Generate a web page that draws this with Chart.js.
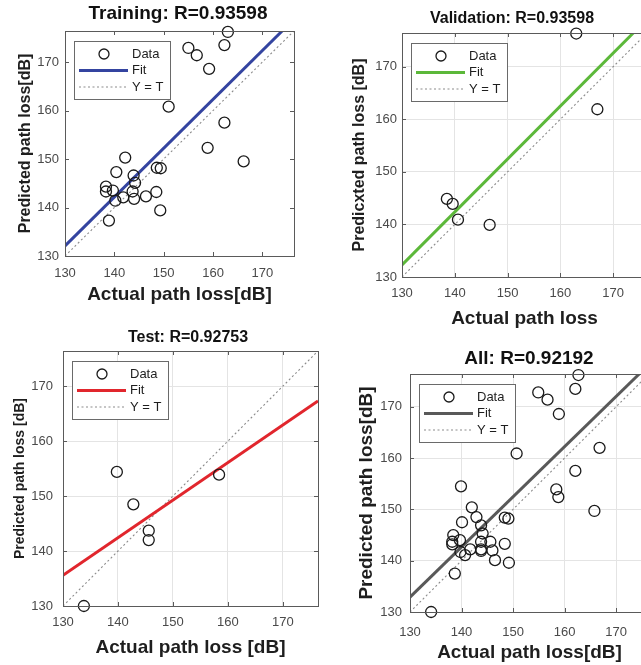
<!DOCTYPE html>
<html>
<head>
<meta charset="utf-8">
<script src="https://cdn.jsdelivr.net/npm/chart.js@4.4.0/dist/chart.umd.min.js"></script>
<style>
  html, body { margin: 0; padding: 0; background: #fff; }
  body { width: 641px; height: 665px; overflow: hidden; position: relative; }
  canvas { position: absolute; }
</style>
</head>
<body>
<canvas id="chartTrain" style="left:0;top:0"></canvas>
<canvas id="chartVal" style="left:320px;top:0"></canvas>
<canvas id="chartTest" style="left:0;top:320px"></canvas>
<canvas id="chartAll" style="left:320px;top:320px"></canvas>
<script>
// axis range and ticks (same for every panel)
const axisMin = 130
const axisMax = 176.4
const tickValues = [130, 140, 150, 160, 170]
const identityLine = [130, 176.4]

// Training
const trainActual = [163.0, 155.0, 156.7, 162.3, 159.2, 151.0, 162.3, 158.9, 166.2, 142.2, 140.4, 138.3, 138.3, 139.7, 140.2, 138.9, 141.8, 143.9, 144.2, 143.7, 144.0, 146.4, 148.6, 149.4, 148.5, 149.3]
const trainPredicted = [176.2, 172.9, 171.4, 173.5, 168.6, 160.8, 157.5, 152.3, 149.5, 150.3, 147.3, 144.3, 143.3, 143.5, 141.4, 137.3, 142.1, 146.6, 145.1, 143.3, 141.8, 142.3, 148.2, 148.1, 143.2, 139.4]
const trainFitX = [130, 174.0]
const trainFitY = [132.1, 176.4]

// Validation
const valActual = [163.0, 167.0, 138.5, 139.6, 140.6, 146.6]
const valPredicted = [176.3, 161.9, 144.85, 143.9, 140.9, 139.9]
const valFitX = [130, 173.8]
const valFitY = [132.3, 176.4]

// Test
const testActual = [139.8, 142.8, 145.6, 145.6, 158.4, 133.8]
const testPredicted = [154.4, 148.5, 143.7, 142.0, 153.9, 130.0]
const testFitX = [130, 176.4]
const testFitY = [135.6, 167.3]

// All
const allActual = [162.7, 154.9, 156.7, 162.1, 158.9, 166.8, 150.7, 162.1, 158.4, 158.8, 165.8, 139.9, 142.0, 142.9, 140.1, 143.8, 144.1, 138.4, 138.2, 138.2, 139.7, 139.8, 140.7, 141.7, 143.8, 143.8, 143.8, 145.6, 146.0, 146.5, 148.4, 148.4, 149.1, 149.2, 138.7, 134.1]
const allPredicted = [176.2, 172.8, 171.4, 173.5, 168.6, 162.0, 160.9, 157.5, 153.9, 152.4, 149.7, 154.5, 150.4, 148.5, 147.5, 146.9, 145.3, 145.0, 143.7, 143.2, 144.0, 141.7, 141.1, 142.2, 143.7, 142.2, 141.9, 143.7, 142.0, 140.1, 143.3, 148.4, 148.2, 139.6, 137.5, 130.0]
const allFitX = [130, 174.5]
const allFitY = [132.9, 176.4]

const legendLabels = ['Data', 'Fit', 'Y = T']

Chart.defaults.font.family = '"Liberation Sans", Arial, sans-serif'

const toPoints = (xs, ys) => xs.map((x, i) => ({x: x, y: ys[i]}))

function makePanel(p){

    const canvas = document.getElementById(p.id)
    canvas.width = p.width
    canvas.height = p.height
    const [L, T, R, B] = p.area

    const xLh = p.xLabelSize * 1.2
    const yLh = p.yLabelSize * 1.2

    const framePlugin = {
        id: 'frame',
        afterDatasetsDraw(chart){
            const {ctx, chartArea: a, scales} = chart
            ctx.save()
            ctx.strokeStyle = '#5a5a5a'
            ctx.lineWidth = 1
            ctx.strokeRect(Math.round(a.left) + 0.5, Math.round(a.top) + 0.5, Math.round(a.right - a.left), Math.round(a.bottom - a.top))
            ctx.beginPath()
            scales.x.ticks.forEach(t => {
                const px = Math.round(scales.x.getPixelForValue(t.value)) + 0.5
                ctx.moveTo(px, a.bottom); ctx.lineTo(px, a.bottom - 4)
                ctx.moveTo(px, a.top); ctx.lineTo(px, a.top + 4)
            })
            scales.y.ticks.forEach(t => {
                const py = Math.round(scales.y.getPixelForValue(t.value)) + 0.5
                ctx.moveTo(a.left, py); ctx.lineTo(a.left + 4, py)
                ctx.moveTo(a.right, py); ctx.lineTo(a.right - 4, py)
            })
            ctx.stroke()
            ctx.restore()
        }
    }

    const legendPlugin = {
        id: 'boxLegend',
        afterDraw(chart){
            const {ctx, chartArea: a} = chart
            const x = Math.round(a.left) + 9
            const y = Math.round(a.top) + 10
            const w = 96, h = 58
            ctx.save()
            ctx.fillStyle = '#fff'
            ctx.fillRect(x, y, w, h)
            ctx.strokeStyle = '#6a6a6a'
            ctx.lineWidth = 1
            ctx.strokeRect(x + 0.5, y + 0.5, w, h)
            ctx.font = '13px "Liberation Sans", Arial, sans-serif'
            ctx.textBaseline = 'middle'
            chart.data.datasets.forEach((ds, i) => {
                const ry = y + 13 + i * 16.5
                ctx.save()
                if(i === 0){
                    ctx.strokeStyle = ds.borderColor
                    ctx.lineWidth = ds.borderWidth
                    ctx.beginPath()
                    ctx.arc(x + 30, ry, 5, 0, Math.PI * 2)
                    ctx.stroke()
                }else{
                    ctx.strokeStyle = ds.borderColor
                    ctx.lineWidth = ds.borderWidth
                    ctx.setLineDash(ds.borderDash || [])
                    ctx.beginPath()
                    ctx.moveTo(x + 5, ry)
                    ctx.lineTo(x + 54, ry)
                    ctx.stroke()
                }
                ctx.restore()
                ctx.fillStyle = '#1e1e1e'
                ctx.fillText(ds.label, x + 58, ry)
            })
            ctx.restore()
        }
    }

    const titlePlugin = {
        id: 'panelTitle',
        afterDraw(chart){
            const {ctx} = chart
            ctx.save()
            ctx.font = 'bold ' + p.titleSize + 'px "Liberation Sans", Arial, sans-serif'
            ctx.fillStyle = '#111'
            ctx.textAlign = 'center'
            ctx.textBaseline = 'middle'
            ctx.fillText(p.title, p.titleX, p.titleY)
            ctx.restore()
        }
    }

    const tickFont = {size: p.tickSize}
    const gridOpts = {display: p.grid, color: '#e4e4e4', drawTicks: false}

    return new Chart(canvas, {
        type: 'scatter',
        data: {
            datasets: [{
                label: legendLabels[0],
                data: toPoints(p.actual, p.predicted),
                pointStyle: 'circle',
                pointRadius: 5.5,
                pointBorderWidth: 1.3,
                borderColor: '#1a1a1a',
                borderWidth: 1.3,
                backgroundColor: 'rgba(0,0,0,0)',
                clip: false
            }, {
                label: legendLabels[1],
                data: toPoints(p.fitX, p.fitY),
                showLine: true,
                pointRadius: 0,
                borderColor: p.fitColor,
                borderWidth: 3
            }, {
                label: legendLabels[2],
                data: toPoints(identityLine, identityLine),
                showLine: true,
                pointRadius: 0,
                borderColor: '#8c8c8c',
                borderWidth: 1.1,
                borderDash: [2, 2.5]
            }]
        },
        options: {
            responsive: false,
            maintainAspectRatio: false,
            animation: false,
            events: [],
            layout: {padding: {left: 0, top: T, right: p.width - R, bottom: 0}},
            plugins: {
                legend: {display: false},
                title: {display: false},
                tooltip: {enabled: false}
            },
            scales: {
                x: {
                    type: 'linear',
                    min: axisMin,
                    max: axisMax,
                    afterBuildTicks: s => { s.ticks = tickValues.map(v => ({value: v})) },
                    afterFit: s => { s.height = p.height - B },
                    grid: gridOpts,
                    border: {display: false},
                    ticks: {font: tickFont, color: '#4a4a4a', padding: p.xTickPad, maxRotation: 0},
                    title: {
                        display: true,
                        text: p.xLabel,
                        color: '#1e1e1e',
                        font: {size: p.xLabelSize, weight: 'bold', lineHeight: 1.2},
                        padding: {top: 0, bottom: Math.max(0, p.height - p.xLabelY - xLh / 2)}
                    }
                },
                y: {
                    type: 'linear',
                    min: axisMin,
                    max: axisMax,
                    afterBuildTicks: s => { s.ticks = tickValues.map(v => ({value: v})) },
                    afterFit: s => { s.width = L },
                    grid: gridOpts,
                    border: {display: false},
                    ticks: {font: tickFont, color: '#4a4a4a', padding: p.yTickPad},
                    title: {
                        display: true,
                        text: p.yLabel,
                        color: '#1e1e1e',
                        font: {size: p.yLabelSize, weight: 'bold', lineHeight: 1.2},
                        padding: {top: Math.max(0, p.yLabelX - yLh / 2), bottom: 0}
                    }
                }
            }
        },
        plugins: [framePlugin, legendPlugin, titlePlugin]
    })
}

makePanel({
    id: 'chartTrain', width: 320, height: 320, area: [65, 31, 294, 256],
    title: 'Training: R=0.93598', titleSize: 19, titleX: 178, titleY: 14,
    xLabel: 'Actual path loss[dB]', xLabelSize: 19, xLabelY: 295,
    yLabel: 'Predicted path loss[dB]', yLabelSize: 16, yLabelX: 26,
    tickSize: 13, xTickPad: 10, yTickPad: 6, grid: false,
    actual: trainActual, predicted: trainPredicted, fitX: trainFitX, fitY: trainFitY, fitColor: '#3444a0'
})

makePanel({
    id: 'chartVal', width: 340, height: 340, area: [82, 33, 327, 277],
    title: 'Validation: R=0.93598', titleSize: 16, titleX: 192, titleY: 19,
    xLabel: 'Actual path loss', xLabelSize: 19, xLabelY: 319,
    yLabel: 'Predicxted path loss [dB]', yLabelSize: 16, yLabelX: 40,
    tickSize: 13, xTickPad: 9, yTickPad: 5, grid: true,
    actual: valActual, predicted: valPredicted, fitX: valFitX, fitY: valFitY, fitColor: '#5cb83a'
})

makePanel({
    id: 'chartTest', width: 330, height: 345, area: [63, 31, 318, 286],
    title: 'Test: R=0.92753', titleSize: 16, titleX: 188, titleY: 18,
    xLabel: 'Actual path loss [dB]', xLabelSize: 19, xLabelY: 328,
    yLabel: 'Predicted path loss [dB]', yLabelSize: 14, yLabelX: 20,
    tickSize: 13, xTickPad: 9, yTickPad: 10, grid: true,
    actual: testActual, predicted: testPredicted, fitX: testFitX, fitY: testFitY, fitColor: '#e1262d'
})

makePanel({
    id: 'chartAll', width: 340, height: 345, area: [90, 54, 329, 292],
    title: 'All: R=0.92192', titleSize: 19, titleX: 209, titleY: 39,
    xLabel: 'Actual path loss[dB]', xLabelSize: 19, xLabelY: 333,
    yLabel: 'Predicted path loss[dB]', yLabelSize: 19, yLabelX: 47,
    tickSize: 13, xTickPad: 13, yTickPad: 8, grid: true,
    actual: allActual, predicted: allPredicted, fitX: allFitX, fitY: allFitY, fitColor: '#595959'
})
</script>
</body>
</html>
